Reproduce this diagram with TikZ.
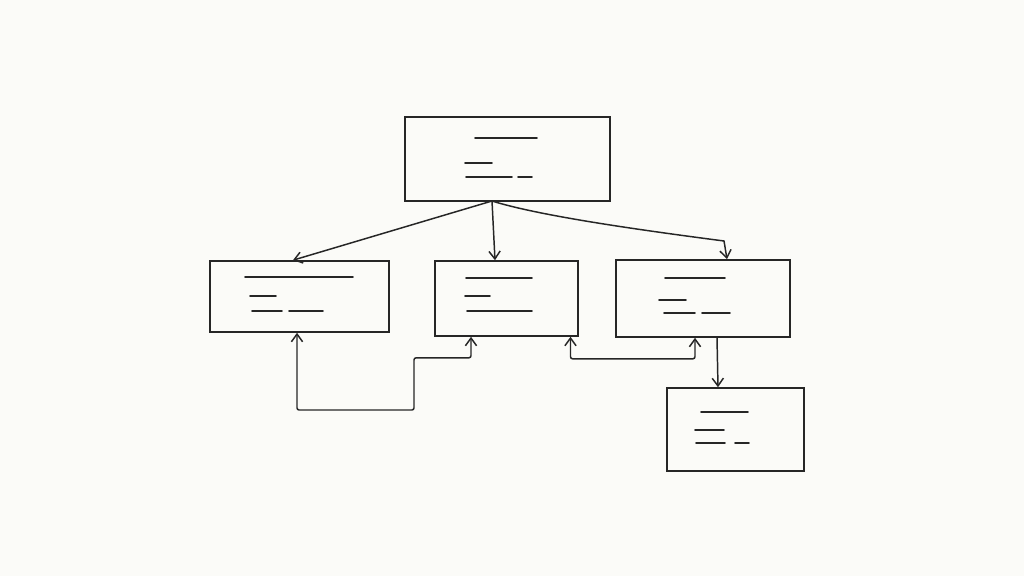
\documentclass[tikz,border=0pt]{standalone}
\usepackage{tikz}
\usetikzlibrary{positioning,arrows.meta,calc}
\definecolor{paper}{HTML}{FBFBF8}
\definecolor{ink}{HTML}{262626}
\begin{document}
\begin{tikzpicture}[x=0.025cm, y=-0.025cm,
  box/.style={rectangle, draw=ink, line width=1.15pt, inner sep=0pt},
  scribble/.style={draw=ink, line width=1.2pt, line cap=round},
  arr/.style={draw=ink, line width=1.05pt, -{Straight Barb[length=5.5pt,width=8pt]}},
  arrboth/.style={draw=ink, line width=1.05pt, rounded corners=1.5pt, {Straight Barb[length=5.5pt,width=8pt]}-{Straight Barb[length=5.5pt,width=8pt]}}]
\fill[paper] (0,0) rectangle (1024,576);
\useasboundingbox (0,0) rectangle (1024,576);

% Boxes
\node[box, minimum width=5.125cm, minimum height=2.1cm] (top) at (507.5,159) {};
\node[box, minimum width=4.475cm, minimum height=1.775cm] (left) at (299.5,296.5) {};
\node[box, minimum width=3.575cm, minimum height=1.875cm] (mid) at (506.5,298.5) {};
\node[box, minimum width=4.35cm, minimum height=1.925cm] (right) at (703,298.5) {};
\node[box, minimum width=3.425cm, minimum height=2.075cm] (bottom) at (735.5,429.5) {};

% Placeholder lines
\draw[scribble] (475,138) -- (537,138) (465,163) -- (492,163) (466,177) -- (512,177) (518,177) -- (532,177);
\draw[scribble] (245,277) -- (353,277) (250,296) -- (276,296) (252,311) -- (282,311) (289,311) -- (323,311);
\draw[scribble] (466,278) -- (532,278) (465,296) -- (490,296) (467,311) -- (532,311);
\draw[scribble] (665,278) -- (725,278) (659,300) -- (686,300) (664,313) -- (695,313) (702,313) -- (730,313);
\draw[scribble] (701,412) -- (748,412) (695,430) -- (724,430) (696,443) -- (725,443) (735,443) -- (749,443);

% Connectors
\coordinate (hub) at (492,201);
\draw[arr] (hub) -- ($(left.north)+(-6.5,0)$);
\draw[arr] (hub) -- ($(mid.north)+(-11.5,0)$);
\draw[arr] (hub) .. controls (540,216) and (640,230) .. (724,241) -- ($(right.north)+(24,0)$);
\draw[arrboth] ($(left.south)+(-2.5,0)$) |- (414,410) |- ($(mid.south)+(-35.5,21)$) -- ($(mid.south)+(-35.5,0)$);
\draw[arrboth] ($(mid.south)+(64,0)$) |- ($(right.south)+(-8,21)$) -- ($(right.south)+(-8,0)$);
\draw[arr] ($(right.south)+(14,0)$) -- ($(bottom.north)+(-17.5,0)$);
\end{tikzpicture}
\end{document}
